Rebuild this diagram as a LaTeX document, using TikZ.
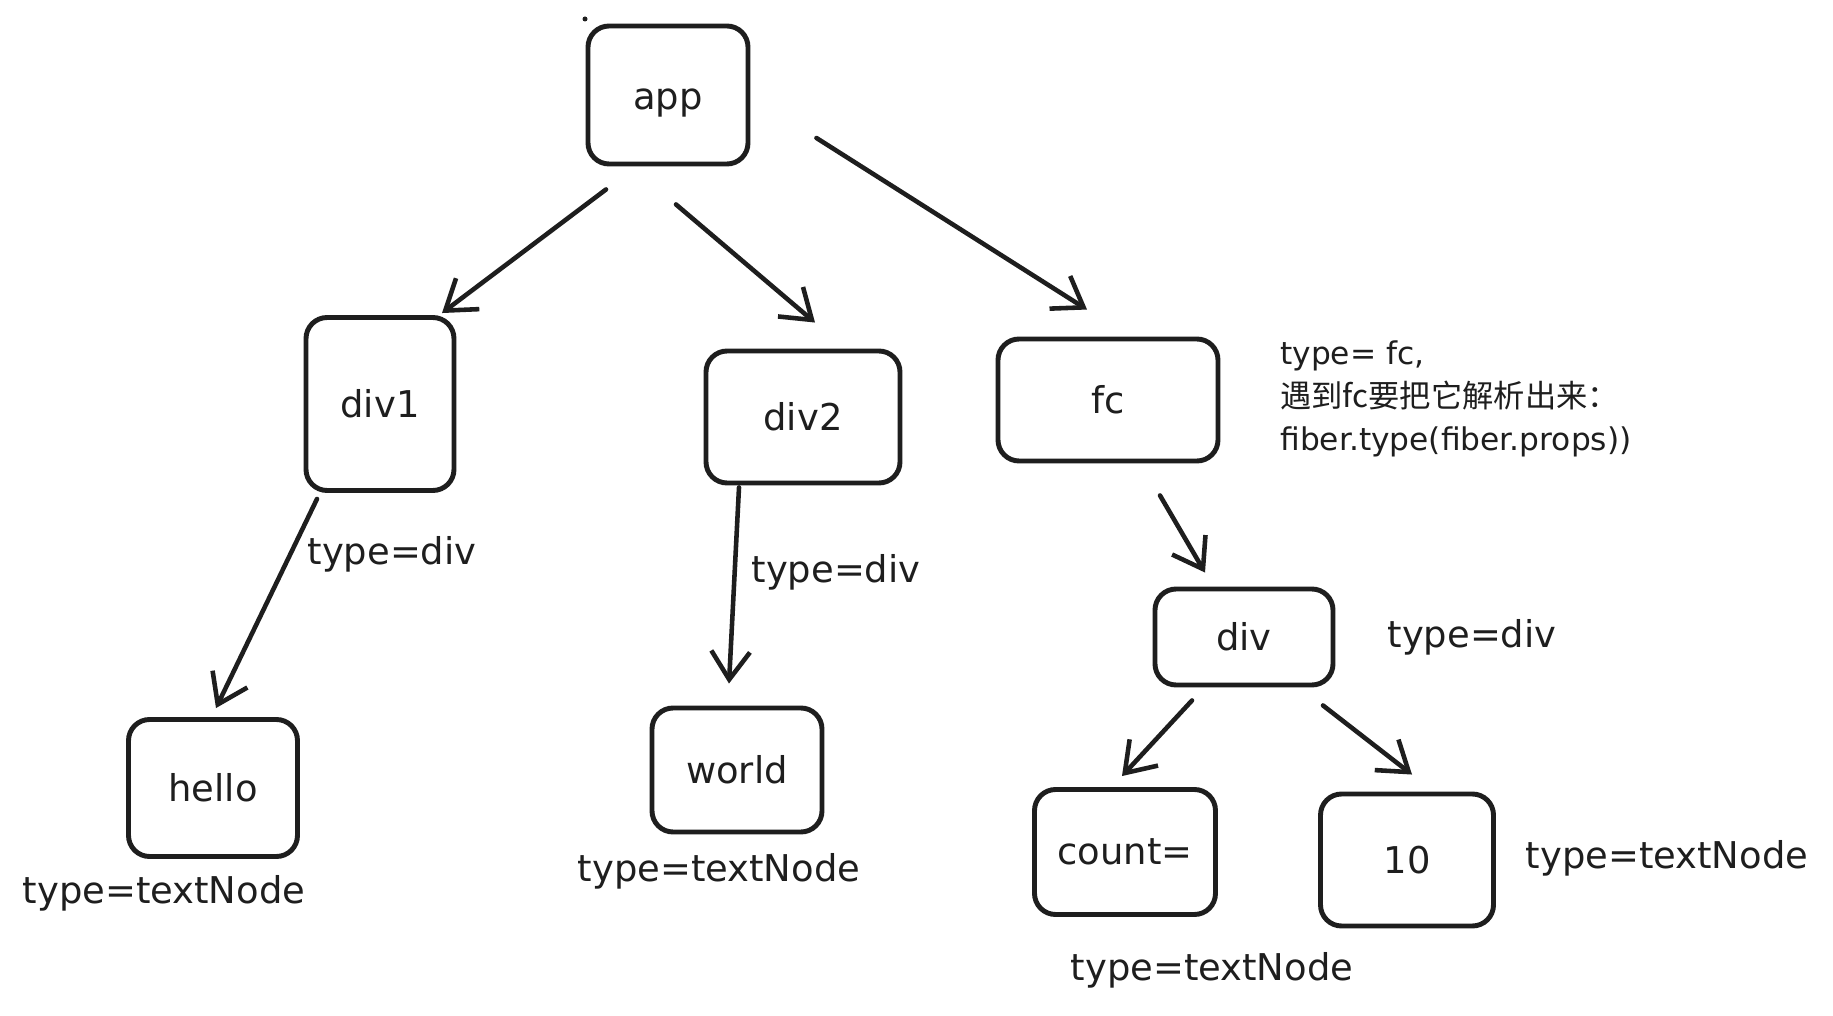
\documentclass[tikz,border=0pt]{standalone}
\usepackage{fontspec}
\setmainfont{DejaVu Sans}
\newfontfamily\cjk{Noto Sans CJK SC}
\usetikzlibrary{arrows.meta}
\definecolor{ink}{HTML}{1E1E1E}
\tikzset{
  box/.style={draw=ink, line width=2.8pt, rounded corners=12pt, text=ink,
    font=\fontsize{21}{25}\selectfont, inner sep=0pt},
  lbl/.style={text=ink, font=\fontsize{21}{25}\selectfont, inner sep=0pt},
  arr/.style={draw=ink, line width=2.6pt, line cap=round,
    -{Straight Barb[length=16pt,width=22pt,line width=2.6pt]}},
}
\begin{document}
\begin{tikzpicture}[x=0.02cm, y=-0.02cm]
\useasboundingbox[fill=white] (0,0) rectangle (1833,1016);
% boxes
\node[box, minimum width=160*0.02cm, minimum height=138*0.02cm] (app) at (668,95) {\raisebox{-8pt}[0pt][0pt]{app}};
\node[box, minimum width=148*0.02cm, minimum height=173*0.02cm] (div1) at (380,404) {div1};
\node[box, minimum width=194*0.02cm, minimum height=132*0.02cm] (div2) at (803,417) {div2};
\node[box, minimum width=220*0.02cm, minimum height=122*0.02cm] (fc) at (1108,400) {fc};
\node[box, minimum width=178*0.02cm, minimum height=96*0.02cm] (div) at (1244,637) {div};
\node[box, minimum width=169*0.02cm, minimum height=137*0.02cm] (hello) at (213,788) {hello};
\node[box, minimum width=170*0.02cm, minimum height=124*0.02cm] (world) at (737,770) {world};
\node[box, minimum width=181*0.02cm, minimum height=125*0.02cm] (count) at (1125,852) {count=};
\node[box, minimum width=173*0.02cm, minimum height=132*0.02cm] (ten) at (1407,860) {10};
% dot
\fill[ink] (585,19) circle (2.5);
% labels
\node[lbl] (l1) at (392,554) {type=div};
\node[lbl] (l2) at (836,572) {type=div};
\node[lbl] (l3) at (1472,637) {type=div};
\node[lbl] (l4) at (164,893) {type=textNode};
\node[lbl] (l5) at (719,871) {type=textNode};
\node[lbl] (l6) at (1212,970) {type=textNode};
\node[lbl] (l7) at (1667,858) {type=textNode};
% annotation
\node[anchor=north west, inner sep=0pt, text=ink, align=left,
  font=\fontsize{17.8}{24.5}\selectfont] (note) at (1280,340)
  {type= fc,\\ {\cjk 遇到fc要把它解析出来：}\\ fiber.type(fiber.props))};
% arrows
\draw[arr] ([shift={(-62,23)}]app.south) -- ([shift={(62,-2)}]div1.north);
\draw[arr] ([shift={(8,38)}]app.south) -- ([shift={(12,-26)}]div2.north);
\draw[arr] ([shift={(66,43)}]app.east) -- ([shift={(-21,-27)}]fc.north);
\draw[arr] ([shift={(-63,6)}]div1.south) -- ([shift={(3,-9)}]hello.north);
\draw[arr] ([shift={(-64,2)}]div2.south) -- ([shift={(-8,-22)}]world.north);
\draw[arr] ([shift={(52,32)}]fc.south) -- ([shift={(-39,-14)}]div.north);
\draw[arr] ([shift={(-52,13)}]div.south) -- ([shift={(-3,-11)}]count.north);
\draw[arr] ([shift={(79,18)}]div.south) -- ([shift={(5,-17)}]ten.north);
\end{tikzpicture}
\end{document}
